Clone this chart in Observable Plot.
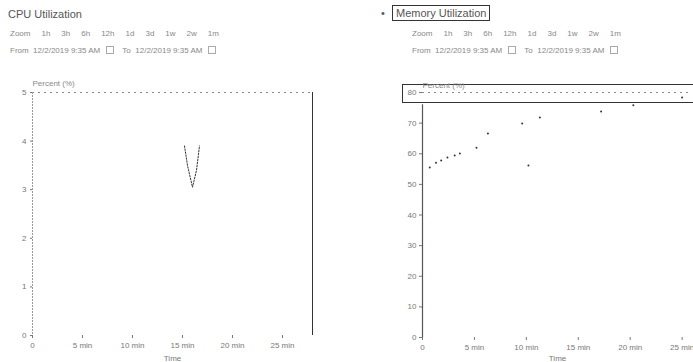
<!DOCTYPE html>
<html>
<head>
<meta charset="utf-8">
<script src="https://cdn.jsdelivr.net/npm/d3@7"></script>
<script src="https://cdn.jsdelivr.net/npm/@observablehq/plot@0.6"></script>
<style>
  html, body { margin: 0; padding: 0; background: #fff; width: 693px; height: 362px; overflow: hidden; font-family: "Liberation Sans", Arial, sans-serif; }
  .abs { position: absolute; white-space: nowrap; }
  .title { font-size: 11px; color: #555; }
  .small { font-size: 8px; color: #888; }
  .zoom span { display: inline-block; margin-right: 11px; }
  .cal { display: inline-block; width: 6px; height: 6px; border: 1px solid #aaa; vertical-align: -1px; margin: 0 6px; }
  #memBox { border: 1px solid #333; padding: 1px 3px; }
  #focusBox { border: 1.5px solid #333; }
</style>
</head>
<body>
<script>
// ---- data ----
const zoomLabels = ["1h", "3h", "6h", "12h", "1d", "3d", "1w", "2w", "1m"];
const fromText = "12/2/2019 9:35 AM";
const toText = "12/2/2019 9:35 AM";

const cpuTime = [15.2, 15.5, 16.0, 16.4, 16.7];
const cpuValue = [3.9, 3.5, 3.05, 3.4, 3.9];
const cpuYTicks = [0, 1, 2, 3, 4, 5];
const cpuXTicks = [0, 5, 10, 15, 20, 25];
const cpuXLabels = ["0", "5 min", "10 min", "15 min", "20 min", "25 min"];

const memTime = [0.7, 1.3, 1.8, 2.4, 3.1, 3.6, 5.2, 6.3, 9.6, 10.2, 11.3, 17.2, 20.3, 25.0];
const memValue = [55.5, 57.1, 57.8, 58.8, 59.4, 60.1, 62.0, 66.6, 69.9, 56.2, 71.8, 73.8, 75.8, 78.4];
const memYTicks = [0, 10, 20, 30, 40, 50, 60, 70, 80];
const memXTicks = [0, 5, 10, 15, 20, 25];
const memXLabels = ["0", "5 min", "10 min", "15 min", "20 min", "25 min"];

const cpuData = cpuTime.map((t, i) => ({t, v: cpuValue[i]}));
const memData = memTime.map((t, i) => ({t, v: memValue[i]}));

function add(html, left, top, cls) {
  const d = document.createElement("div");
  d.className = "abs " + (cls || "");
  d.style.left = left + "px";
  d.style.top = top + "px";
  d.innerHTML = html;
  document.body.appendChild(d);
  return d;
}
function zoomLine() {
  return "<span>Zoom</span>" + zoomLabels.map(z => `<span>${z}</span>`).join("");
}
function fromLine() {
  return `From&nbsp; ${fromText}<span class="cal"></span> To&nbsp; ${toText}<span class="cal"></span>`;
}

// ---- headers ----
add("CPU Utilization", 8, 8, "title");
add(zoomLine(), 10, 29, "small zoom");
add(fromLine(), 10, 46, "small");

add("•", 381, 7, "title");
add("Memory Utilization", 392, 5, "title").id = "memBox";
add(zoomLine(), 412, 29, "small zoom");
add(fromLine(), 412, 46, "small");

const baseStyle = {fontFamily: "Liberation Sans, Arial, sans-serif", fontSize: "8px", color: "#777", background: "transparent", overflow: "visible"};

// ---- CPU chart ----
const cpu = Plot.plot({
  width: 320, height: 292,
  marginLeft: 32, marginRight: 8, marginTop: 22, marginBottom: 27,
  style: baseStyle,
  x: {domain: [0, 28]},
  y: {domain: [0, 5]},
  marks: [
    Plot.ruleY([5], {stroke: "#888", strokeDasharray: "2,4"}),
    Plot.ruleX([0], {stroke: "#999", strokeDasharray: "2,1"}),
    Plot.ruleX([28], {stroke: "#333"}),
    Plot.axisY({ticks: cpuYTicks, tickFormat: "d", tickSize: 2, tickPadding: 4, label: null}),
    Plot.axisX({ticks: cpuXTicks, tickFormat: d => cpuXLabels[cpuXTicks.indexOf(d)], tickSize: 3, tickPadding: 4,
      label: "Time", labelAnchor: "center", labelArrow: "none", labelOffset: 25}),
    Plot.text(["Percent (%)"], {text: d => d, frameAnchor: "top-left", dy: -12, textAnchor: "start", fill: "#888"}),
    Plot.line(cpuData, {x: "t", y: "v", stroke: "#333", strokeWidth: 1, strokeDasharray: "1.5,1.5"})
  ]
});
const cpuWrap = add("", 0, 70);
cpuWrap.appendChild(cpu);

// ---- Memory chart ----
add("", 402, 84).id = "focusBox";
document.getElementById("focusBox").style.width = "300px";
document.getElementById("focusBox").style.height = "17px";

const mem = Plot.plot({
  width: 313, height: 292,
  marginLeft: 42, marginRight: 1, marginTop: 22, marginBottom: 25,
  style: baseStyle,
  x: {domain: [0, 26]},
  y: {domain: [0, 80]},
  marks: [
    Plot.ruleY([80], {stroke: "#888", strokeDasharray: "2,4"}),
    Plot.ruleX([0], {y1: 0, y2: 76, stroke: "#555", strokeWidth: 1.2}),
    Plot.axisY({ticks: memYTicks, tickSize: 3, tickPadding: 3, label: null}),
    Plot.axisX({ticks: memXTicks, tickFormat: d => memXLabels[memXTicks.indexOf(d)], tickSize: 3, tickPadding: 4,
      label: "Time", labelAnchor: "center", labelArrow: "none", labelOffset: 23}),
    Plot.text(["Percent (%)"], {text: d => d, frameAnchor: "top-left", dy: -10, textAnchor: "start", fill: "#888"}),
    Plot.dot(memData, {x: "t", y: "v", r: 1, fill: "#333", stroke: null})
  ]
});
const memWrap = add("", 380, 70);
memWrap.appendChild(mem);
</script>
</body>
</html>
